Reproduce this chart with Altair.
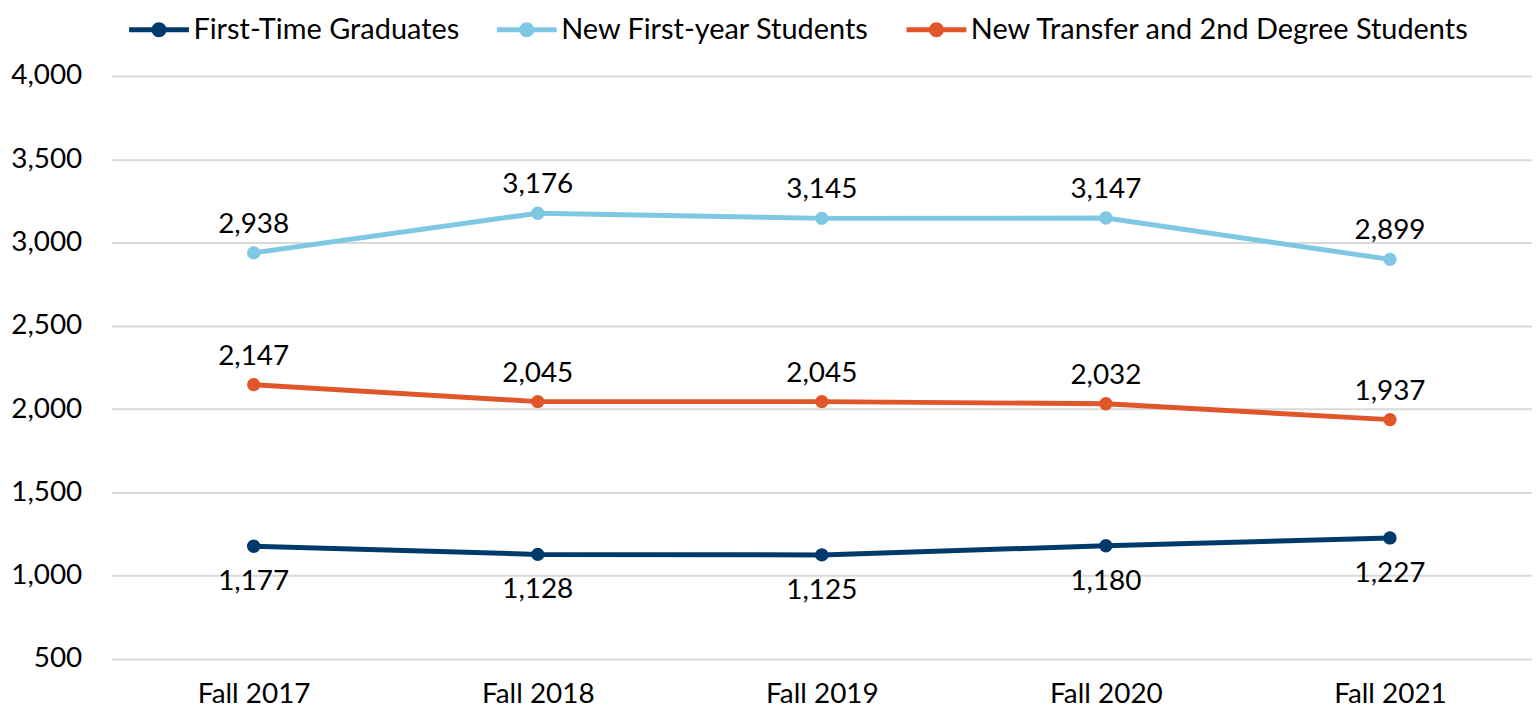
import altair as alt
import pandas as pd

years = ["Fall 2017", "Fall 2018", "Fall 2019", "Fall 2020", "Fall 2021"]
series_names = ["First-Time Graduates", "New First-year Students", "New Transfer and 2nd Degree Students"]
graduates = [1177, 1128, 1125, 1180, 1227]
first_year = [2938, 3176, 3145, 3147, 2899]
transfer = [2147, 2045, 2045, 2032, 1937]
colors = ["#003A6C", "#7EC8E3", "#E0562A"]
y_ticks = [500, 1000, 1500, 2000, 2500, 3000, 3500, 4000]

rows = []
for name, vals in zip(series_names, [graduates, first_year, transfer]):
    for yr, v in zip(years, vals):
        rows.append({"Year": yr, "Series": name, "Value": v})
df = pd.DataFrame(rows)

FONT = "Lato"
FS = 28
# line + dot legend glyph (unit = 10px at symbolSize 400)
legend_path = ("M -3 -0.25 L 3 -0.25 L 3 0.25 L -3 0.25 Z "
               "M 0.75 0 A 0.75 0.75 0 1 1 -0.75 0 A 0.75 0.75 0 1 1 0.75 0 Z")

x = alt.X("Year:N", sort=years, title=None,
          scale=alt.Scale(type="point", padding=0.5),
          axis=alt.Axis(labelAngle=0, ticks=False, domain=False, grid=False,
                        labelFontSize=FS, labelFont=FONT, labelColor="#000000", labelPadding=22))
y = alt.Y("Value:Q", title=None,
          scale=alt.Scale(domain=[500, 4000], nice=False, zero=False),
          axis=alt.Axis(values=y_ticks, format=",.0f", ticks=False, domain=False,
                        gridColor="#D9D9D9", gridWidth=2,
                        labelFontSize=FS, labelFont=FONT, labelColor="#000000", labelPadding=30))
color = alt.Color("Series:N", sort=series_names,
                  scale=alt.Scale(domain=series_names, range=colors),
                  legend=alt.Legend(title=None, orient="none", direction="horizontal",
                                    legendX=33, legendY=-61,
                                    symbolType=legend_path, symbolSize=400,
                                    symbolStrokeWidth=0, symbolOpacity=1,
                                    labelFontSize=29, labelFont=FONT, labelColor="#000000",
                                    labelOffset=20, columnPadding=37, labelLimit=700))

base = alt.Chart(df).encode(x=x, y=y, color=color)
lines = base.mark_line(strokeWidth=5)
points = base.mark_circle(size=180, opacity=1)

text_common = dict(fontSize=FS, font=FONT, color="#000000")
above = alt.Chart(df).transform_filter(
    alt.datum.Series != "First-Time Graduates").mark_text(dy=-28, **text_common).encode(
    x=alt.X("Year:N", sort=years), y="Value:Q", text=alt.Text("Value:Q", format=",.0f"))
below = alt.Chart(df).transform_filter(
    alt.datum.Series == "First-Time Graduates").mark_text(dy=36, **text_common).encode(
    x=alt.X("Year:N", sort=years), y="Value:Q", text=alt.Text("Value:Q", format=",.0f"))

chart = alt.layer(lines, points, above, below).properties(
    width=1425, height=585,
    autosize=alt.AutoSizeParams(type="none"),
    padding={"left": 104, "top": 67, "right": 0, "bottom": 52},
).configure(background="#FFFFFF").configure_view(stroke=None, strokeWidth=0)

chart.save("out.html", embed_options={"renderer": "svg", "actions": False})
